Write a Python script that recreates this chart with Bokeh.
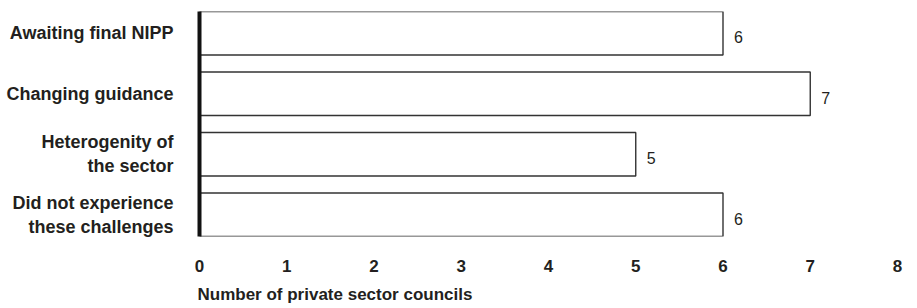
from bokeh.plotting import figure
from bokeh.models import Range1d, FixedTicker, Title, ColumnDataSource
from bokeh.embed import file_html
from bokeh.resources import INLINE
from bokeh.core.properties import value

categories = ["Awaiting final NIPP", "Changing guidance", "Heterogenity of\nthe sector",
              "Did not experience\nthese challenges"]
counts = [6, 7, 5, 6]
x_ticks = [0, 1, 2, 3, 4, 5, 6, 7, 8]
x_title = "Number of private sector councils"

FONT = "Liberation Sans"
TXT = "#231f20"

pos = list(range(len(categories)))
bh = 0.72
src = ColumnDataSource(dict(y=pos, right=counts, lab=[str(c) for c in counts]))

p = figure(frame_width=698, frame_height=225, output_backend="svg", toolbar_location=None,
           x_range=Range1d(0, 8), y_range=Range1d(len(categories) - 1 + bh / 2, -bh / 2),
           min_border_left=199, min_border_right=10, min_border_top=11, min_border_bottom=0)
p.outline_line_color = None
p.grid.grid_line_color = None
p.background_fill_color = "white"

p.hbar(y="y", left=0, right="right", height=bh, source=src,
       fill_color="white", line_color="#333333", line_width=1.4)
p.text(x="right", y="y", text="lab", source=src, x_offset=11, y_offset=4,
       text_align="left", text_baseline="middle", text_font=value(FONT),
       text_font_size="16px", text_color=TXT)

xa = p.xaxis[0]
xa.ticker = FixedTicker(ticks=x_ticks)
xa.axis_line_color = None
xa.major_tick_line_color = None
xa.minor_tick_line_color = None
xa.major_label_text_font = FONT
xa.major_label_text_font_style = "bold"
xa.major_label_text_font_size = "17px"
xa.major_label_text_color = TXT
xa.major_label_standoff = 17

ya = p.yaxis[0]
ya.ticker = FixedTicker(ticks=pos)
ya.major_label_overrides = {i: c for i, c in zip(pos, categories)}
ya.axis_line_color = "#111111"
ya.axis_line_width = 4
ya.major_tick_line_color = None
ya.minor_tick_line_color = None
ya.major_label_text_font = FONT
ya.major_label_text_font_style = "bold"
ya.major_label_text_font_size = "18px"
ya.major_label_text_color = TXT
ya.major_label_standoff = 20

t = Title(text=x_title, align="left", text_font=FONT, text_font_style="bold",
          text_font_size="17px", text_color=TXT, offset=-2, standoff=16)
p.add_layout(t, "below")

open("out.html", "w").write(file_html(p, INLINE))
